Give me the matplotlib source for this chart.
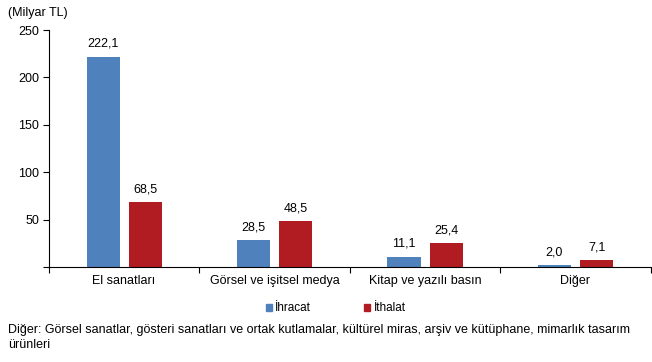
import numpy as np
import matplotlib.pyplot as plt
from matplotlib.patches import Patch

plt.rcParams['font.family'] = ['Liberation Sans', 'DejaVu Sans']

categories = ["El sanatları", "Görsel ve işitsel medya", "Kitap ve yazılı basın", "Diğer"]
ihracat = [222.1, 28.5, 11.1, 2.0]
ithalat = [68.5, 48.5, 25.4, 7.1]
blue = "#4F81BD"
red = "#B01C22"

fig = plt.figure(figsize=(6.52, 3.62), dpi=100)
ax = fig.add_axes([0.075, 0.262, 0.923, 0.655])

x = np.arange(len(categories))
w = 0.22
b1 = ax.bar(x - 0.14, ihracat, w, color=blue)
b2 = ax.bar(x + 0.14, ithalat, w, color=red)

for bars, vals in [(b1, ihracat), (b2, ithalat)]:
    for r, v in zip(bars, vals):
        ax.text(r.get_x() + r.get_width() / 2, v + 7, f"{v:.1f}".replace(".", ","),
                ha="center", va="bottom", fontsize=9)

ax.set_xlim(-0.5, 3.5)
ax.set_ylim(0, 250)
ax.set_yticks([0, 50, 100, 150, 200, 250])
ax.set_yticklabels(["", "50", "100", "150", "200", "250"], fontsize=9)
ax.set_xticks(np.arange(-0.5, 4, 1))
ax.set_xticklabels([])
ax.set_xticks(x, minor=True)
ax.set_xticklabels(categories, minor=True, fontsize=9)
ax.tick_params(axis="x", which="minor", length=0, pad=6)
ax.tick_params(axis="x", which="major", length=4, direction="out")
ax.tick_params(axis="y", length=4, direction="out", pad=3)
for s in ["top", "right"]:
    ax.spines[s].set_visible(False)

fig.text(0.012, 0.965, "(Milyar TL)", fontsize=9, va="center")

handles = [Patch(color=blue, label="İhracat"), Patch(color=red, label="İthalat")]
fig.legend(handles=handles, loc="center", bbox_to_anchor=(0.515, 0.148), ncol=2,
           frameon=False, fontsize=8.5, handlelength=0.5, handleheight=0.5,
           handletextpad=0.3, columnspacing=4.5)

fig.text(0.012, 0.068, "Diğer: Görsel sanatlar, gösteri sanatları ve ortak kutlamalar, kültürel miras, arşiv ve kütüphane, mimarlık tasarım\nürünleri",
         fontsize=9, va="center", linespacing=1.35)

fig.savefig("out.png", dpi=100)
